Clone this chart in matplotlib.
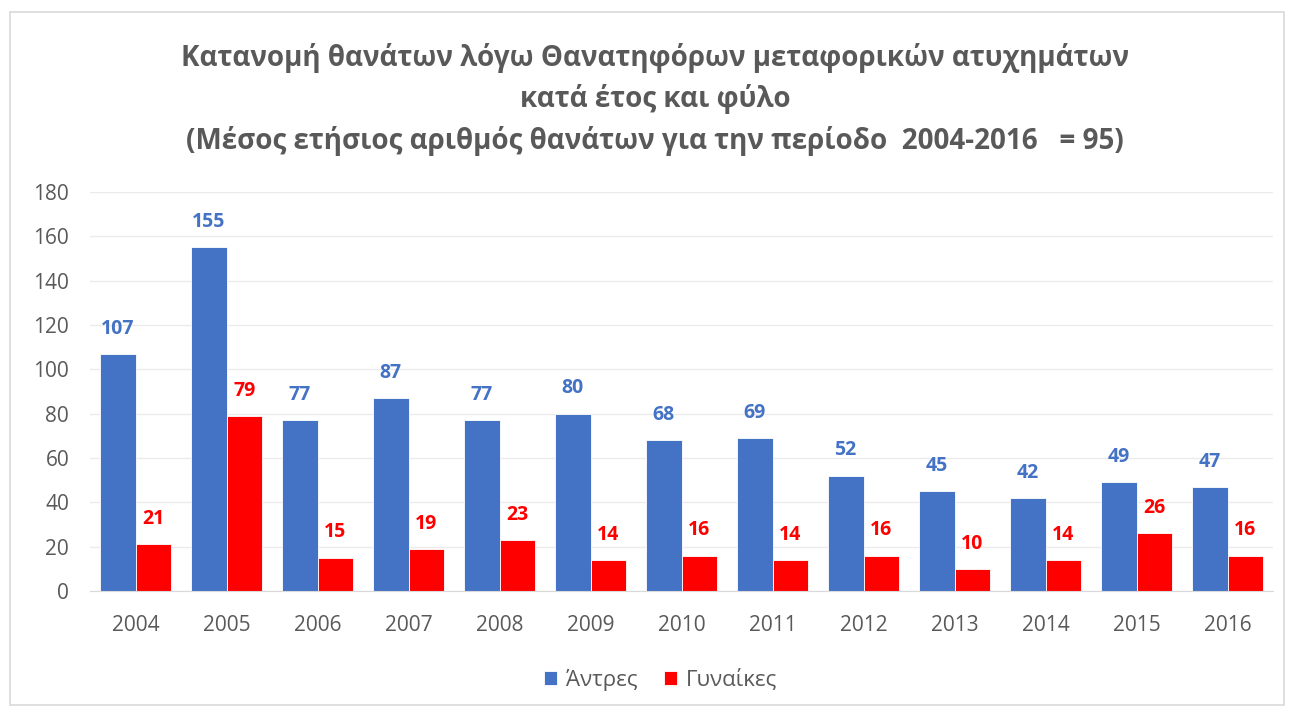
import numpy as np
import matplotlib
matplotlib.use("Agg")
import matplotlib.pyplot as plt
from matplotlib.patches import Rectangle

plt.rcParams['font.family'] = ['Open Sans', 'DejaVu Sans']

years = ['2004', '2005', '2006', '2007', '2008', '2009', '2010',
         '2011', '2012', '2013', '2014', '2015', '2016']
men = [107, 155, 77, 87, 77, 80, 68, 69, 52, 45, 42, 49, 47]
women = [21, 79, 15, 19, 23, 14, 16, 14, 16, 10, 14, 26, 16]
series_names = ['Άντρες', 'Γυναίκες']
title = ('Κατανομή θανάτων λόγω Θανατηφόρων μεταφορικών ατυχημάτων\n'
         'κατά έτος και φύλο\n'
         '(Μέσος ετήσιος αριθμός θανάτων για την περίοδο  2004-2016   = 95)')

blue = '#4472C4'
red = '#FF0000'
grey = '#595959'

W, H = 1290, 713
fig = plt.figure(figsize=(W / 100, H / 100), dpi=100)
fig.patches.append(Rectangle((10 / W, 8 / H), 1 - 16 / W, 1 - 20 / H,
                             transform=fig.transFigure, fill=False,
                             edgecolor='#D9D9D9', linewidth=1.2))

ax = fig.add_axes([90 / W, (H - 591) / H, 1183 / W, 399 / H])
x = np.arange(len(years))
bw = 0.395
b1 = ax.bar(x - bw / 2, men, bw, color=blue, edgecolor='white', linewidth=0.6,
            label=series_names[0], zorder=3)
b2 = ax.bar(x + bw / 2, women, bw, color=red, edgecolor='white', linewidth=0.6,
            label=series_names[1], zorder=3)
ax.bar_label(b1, padding=11, color=blue, fontsize=14, fontweight='bold')
ax.bar_label(b2, padding=11, color=red, fontsize=14, fontweight='bold')

ax.set_xlim(-0.5, len(years) - 0.5)
ax.set_ylim(0, 180)
ax.set_yticks(range(0, 181, 20))
ax.set_xticks(x)
ax.set_xticklabels(years)
ax.tick_params(axis='both', length=0, labelsize=15, colors=grey)
ax.tick_params(axis='x', pad=17)
ax.tick_params(axis='y', pad=15)
ax.grid(axis='y', color='#EBEBEB', linewidth=1, zorder=0)
for s in ['top', 'right', 'left']:
    ax.spines[s].set_visible(False)
ax.spines['bottom'].set_color('#D9D9D9')
ax.spines['bottom'].set_zorder(4)

fig.text(0.508, 1 - 43 / H, title, ha='center', va='top', fontsize=20,
         fontweight='bold', color=grey, linespacing=1.5)

fig.legend(handles=[b1, b2], loc='center', bbox_to_anchor=(0.512, 1 - 680 / H),
           ncol=2, frameon=False, fontsize=16, labelcolor=grey,
           handlelength=0.6, handleheight=0.6, handletextpad=0.4,
           columnspacing=1.2)

fig.savefig('out.png', dpi=100)
